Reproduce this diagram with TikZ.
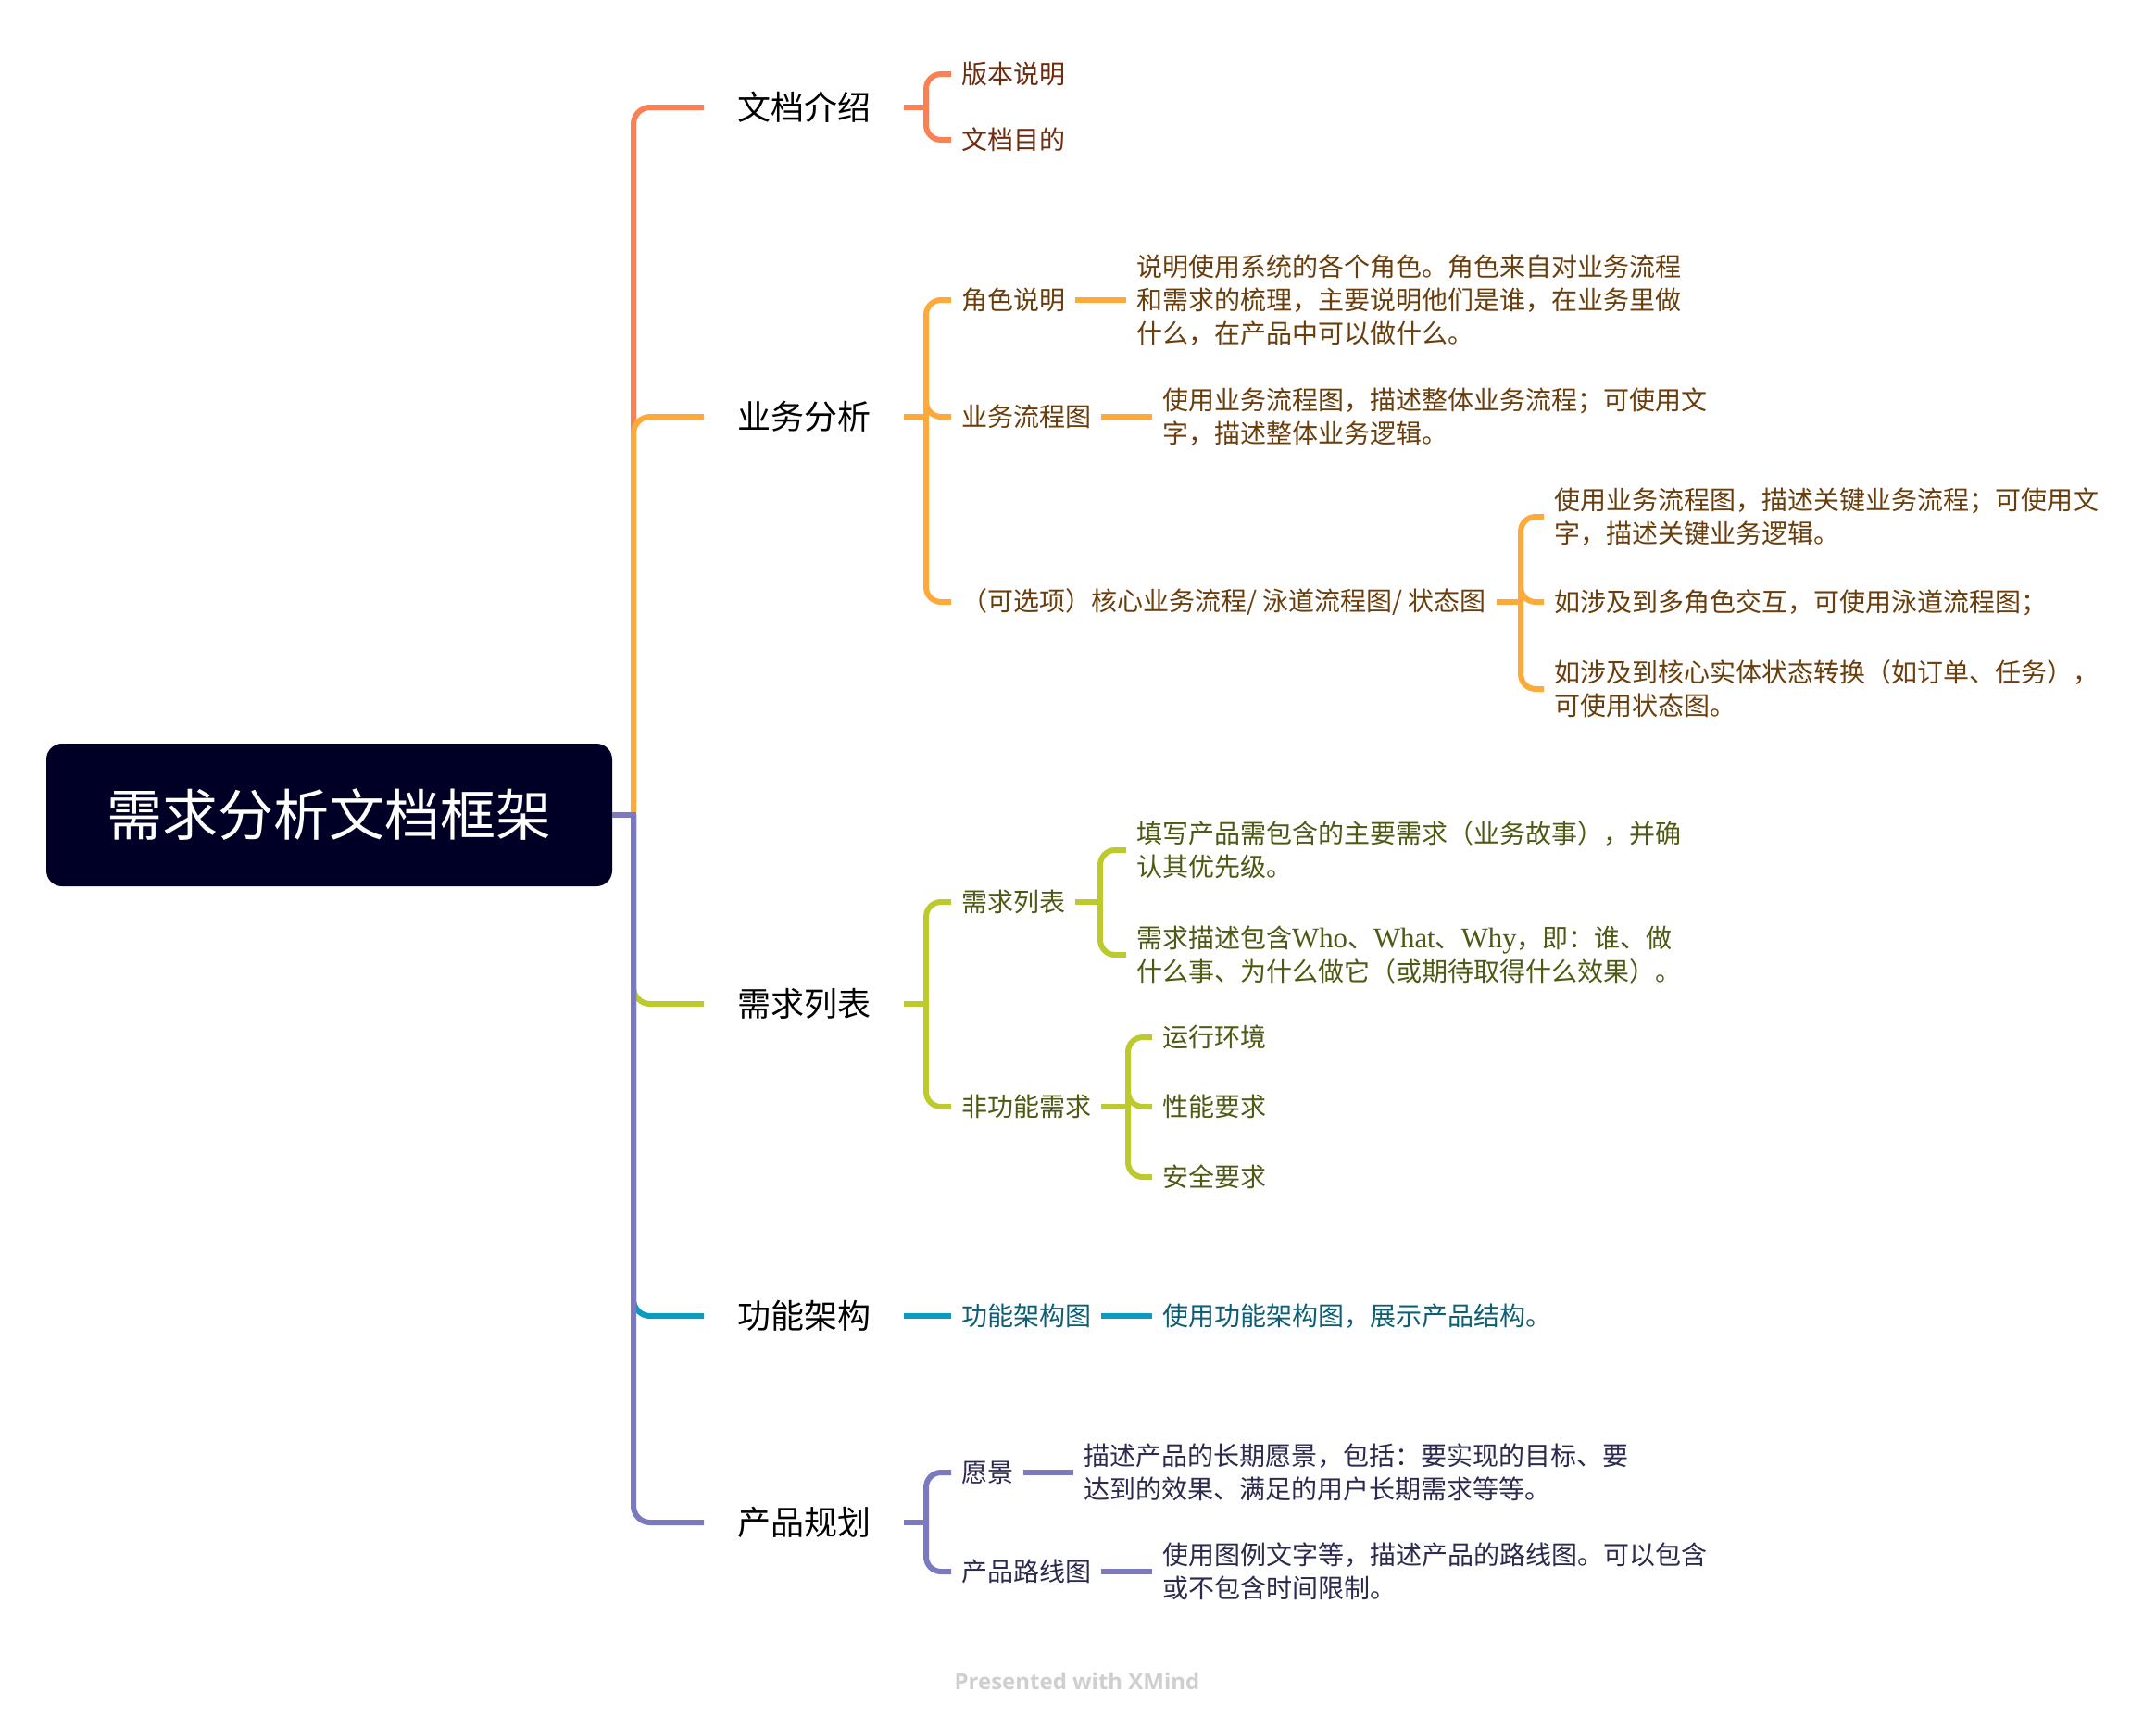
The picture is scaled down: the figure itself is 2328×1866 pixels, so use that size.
\documentclass[tikz,border=0pt]{standalone}
\usepackage{fontspec}
\setmainfont{Noto Sans CJK SC}
\newfontfamily\latserif[Scale=1.1]{Liberation Serif}
\newfontfamily\footfont{Open Sans}
\definecolor{cA}{HTML}{FA8156}
\definecolor{cB}{HTML}{FDAA3A}
\definecolor{cC}{HTML}{BCCA2D}
\definecolor{cD}{HTML}{0A9BBE}
\definecolor{cE}{HTML}{7B79BF}
\definecolor{tA}{HTML}{6E2B0D}
\definecolor{tB}{HTML}{6A3E0C}
\definecolor{tC}{HTML}{4E5A14}
\definecolor{tD}{HTML}{0C5F75}
\definecolor{tE}{HTML}{2B2B4F}
\definecolor{rootfill}{HTML}{000027}
\definecolor{footgray}{HTML}{CFCFCF}
\newcommand\Ls{\rule[-0.12em]{0pt}{1em}}
\tikzset{
  rootbox/.style={fill=rootfill, rounded corners=17pt, minimum width=611pt, minimum height=154pt, inner sep=0pt, text=white, font=\fontsize{60}{70}\selectfont},
  lvone/.style={anchor=west, inner xsep=36pt, inner ysep=0pt, font=\fontsize{36}{44}\selectfont, text=black},
  lvtwo/.style={anchor=west, inner xsep=11pt, inner ysep=0pt, font=\fontsize{28}{36}\selectfont, align=left},
  trunk/.style={line width=6pt, rounded corners=18pt},
  conn/.style={line width=6pt, rounded corners=16pt},
}
\begin{document}
\begin{tikzpicture}[x=1pt,y=-1pt]
\useasboundingbox (0,0) rectangle (2328,1866);
\fill[white] (0,0) rectangle (2328,1866);

% root
\node[rootbox] (root) at (355.5,880) {\Ls 需求分析文档框架};
\coordinate (tr) at (684,880);

% level 1
\node[lvone] (l1) at (760,116) {\Ls 文档介绍};
\node[lvone] (l2) at (760,450) {\Ls 业务分析};
\node[lvone] (l3) at (760,1084) {\Ls 需求列表};
\node[lvone] (l4) at (760,1421) {\Ls 功能架构};
\node[lvone] (l5) at (760,1644) {\Ls 产品规划};

\draw[trunk,cA] (tr) |- (l1.west);
\draw[trunk,cB] (tr) |- (l2.west);
\draw[trunk,cC] (tr) |- (l3.west);
\draw[trunk,cD] (tr) |- (l4.west);
\draw[trunk,cE] (tr) |- (l5.west);
\draw[line width=6pt,cE] (root.east) -- ([xshift=3pt]tr);

% ---- 文档介绍
\node[lvtwo,text=tA] (c11) at (1027,80) {\Ls 版本说明};
\node[lvtwo,text=tA] (c12) at (1027,151) {\Ls 文档目的};
\coordinate (b1) at (1000,116);
\draw[conn,cA] (l1.east) -- (b1);
\draw[conn,cA] (b1) |- (c11.west);
\draw[conn,cA] (b1) |- (c12.west);

% ---- 业务分析
\node[lvtwo,text=tB] (c21) at (1027,324) {\Ls 角色说明};
\node[lvtwo,text=tB] (c22) at (1027,450) {\Ls 业务流程图};
\node[lvtwo,text=tB] (c23) at (1027,650) {\Ls （可选项）核心业务流程/ 泳道流程图/ 状态图};
\coordinate (b2) at (1000,450);
\draw[conn,cB] (l2.east) -- (b2);
\draw[conn,cB] (b2) |- (c21.west);
\draw[conn,cB] (b2) |- (c22.west);
\draw[conn,cB] (b2) |- (c23.west);

\node[lvtwo,text=tB] (d21) at (1216,324) {\Ls 说明使用系统的各个角色。角色来自对业务流程\\\Ls 和需求的梳理，主要说明他们是谁，在业务里做\\\Ls 什么，在产品中可以做什么。};
\draw[conn,cB] (c21.east) -- (d21.west);
\node[lvtwo,text=tB] (d22) at (1244,450) {\Ls 使用业务流程图，描述整体业务流程；可使用文\\\Ls 字，描述整体业务逻辑。};
\draw[conn,cB] (c22.east) -- (d22.west);

\coordinate (b23) at (1642,650);
\node[lvtwo,text=tB] (e1) at (1667,558) {\Ls 使用业务流程图，描述关键业务流程；可使用文\\\Ls 字，描述关键业务逻辑。};
\node[lvtwo,text=tB] (e2) at (1667,650) {\Ls 如涉及到多角色交互，可使用泳道流程图；};
\node[lvtwo,text=tB] (e3) at (1667,744) {\Ls 如涉及到核心实体状态转换（如订单、任务），\\\Ls 可使用状态图。};
\draw[conn,cB] (c23.east) -- (b23);
\draw[conn,cB] (b23) |- (e1.west);
\draw[conn,cB] (b23) |- (e2.west);
\draw[conn,cB] (b23) |- (e3.west);

% ---- 需求列表
\node[lvtwo,text=tC] (c31) at (1027,974) {\Ls 需求列表};
\node[lvtwo,text=tC] (c32) at (1027,1195) {\Ls 非功能需求};
\coordinate (b3) at (1000,1084);
\draw[conn,cC] (l3.east) -- (b3);
\draw[conn,cC] (b3) |- (c31.west);
\draw[conn,cC] (b3) |- (c32.west);

\coordinate (b31) at (1188,974);
\node[lvtwo,text=tC] (d311) at (1216,918) {\Ls 填写产品需包含的主要需求（业务故事），并确\\\Ls 认其优先级。};
\node[lvtwo,text=tC] (d312) at (1216,1031) {\Ls 需求描述包含{\latserif Who}、{\latserif What}、{\latserif Why}，即：谁、做\\\Ls 什么事、为什么做它（或期待取得什么效果）。};
\draw[conn,cC] (c31.east) -- (b31);
\draw[conn,cC] (b31) |- (d311.west);
\draw[conn,cC] (b31) |- (d312.west);

\coordinate (b32) at (1218,1195);
\node[lvtwo,text=tC] (d321) at (1244,1120) {\Ls 运行环境};
\node[lvtwo,text=tC] (d322) at (1244,1195) {\Ls 性能要求};
\node[lvtwo,text=tC] (d323) at (1244,1271) {\Ls 安全要求};
\draw[conn,cC] (c32.east) -- (b32);
\draw[conn,cC] (b32) |- (d321.west);
\draw[conn,cC] (b32) |- (d322.west);
\draw[conn,cC] (b32) |- (d323.west);

% ---- 功能架构
\node[lvtwo,text=tD] (c41) at (1027,1421) {\Ls 功能架构图};
\draw[conn,cD] (l4.east) -- (c41.west);
\node[lvtwo,text=tD] (d41) at (1244,1421) {\Ls 使用功能架构图，展示产品结构。};
\draw[conn,cD] (c41.east) -- (d41.west);

% ---- 产品规划
\node[lvtwo,text=tE] (c51) at (1027,1590) {\Ls 愿景};
\node[lvtwo,text=tE] (c52) at (1027,1697) {\Ls 产品路线图};
\coordinate (b5) at (1000,1644);
\draw[conn,cE] (l5.east) -- (b5);
\draw[conn,cE] (b5) |- (c51.west);
\draw[conn,cE] (b5) |- (c52.west);
\node[lvtwo,text=tE] (d51) at (1159,1590) {\Ls 描述产品的长期愿景，包括：要实现的目标、要\\\Ls 达到的效果、满足的用户长期需求等等。};
\draw[conn,cE] (c51.east) -- (d51.west);
\node[lvtwo,text=tE] (d52) at (1244,1697) {\Ls 使用图例文字等，描述产品的路线图。可以包含\\\Ls 或不包含时间限制。};
\draw[conn,cE] (c52.east) -- (d52.west);

% footer
\node[font=\footfont\bfseries\fontsize{24}{28}\selectfont, text=footgray] (foot) at (1163,1815) {Presented with XMind};
\end{tikzpicture}
\end{document}
